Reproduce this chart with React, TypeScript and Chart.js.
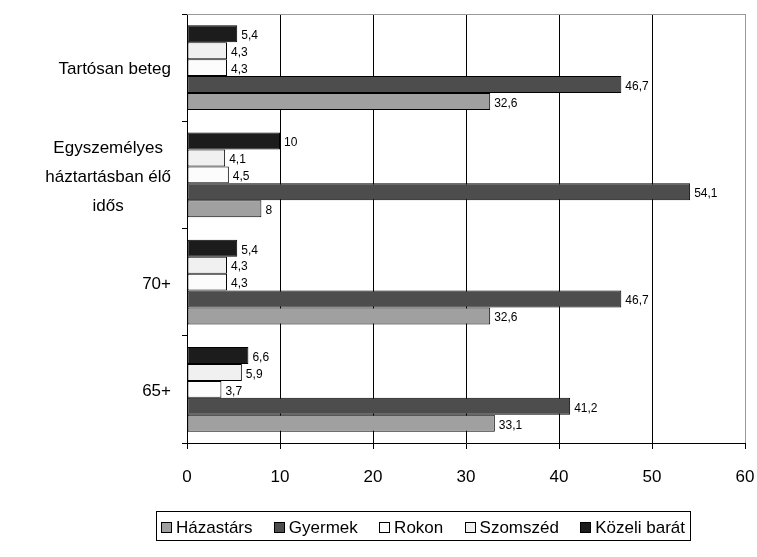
import React, { useEffect, useRef } from 'react';
import { Chart, registerables } from 'chart.js';

Chart.register(...registerables);

const FONT = "'Liberation Sans', Arial, sans-serif";

const categories: string[][] = [
  ['Tartósan beteg'],
  ['Egyszemélyes', 'háztartásban élő', 'idős'],
  ['70+'],
  ['65+'],
];

const hazastars = [32.6, 8, 32.6, 33.1];
const gyermek = [46.7, 54.1, 46.7, 41.2];
const rokon = [4.3, 4.5, 4.3, 3.7];
const szomszed = [4.3, 4.1, 4.3, 5.9];
const kozeliBarat = [5.4, 10, 5.4, 6.6];

const xMin = 0;
const xMax = 60;
const xStep = 10;

const fmt = (v: number) => String(v).replace('.', ',');

const valueLabelPlugin = {
  id: 'valueLabels',
  afterDatasetsDraw(chart: any) {
    const ctx = chart.ctx;
    ctx.save();
    ctx.font = `12px ${FONT}`;
    ctx.fillStyle = '#000';
    ctx.textAlign = 'left';
    ctx.textBaseline = 'middle';
    chart.data.datasets.forEach((ds: any, di: number) => {
      const meta = chart.getDatasetMeta(di);
      meta.data.forEach((bar: any, i: number) => {
        ctx.fillText(fmt(ds.data[i]), bar.x + 4, bar.y + 2);
      });
    });
    ctx.restore();
  },
};

const frameAndLabelsPlugin = {
  id: 'frameAndLabels',
  afterDraw(chart: any) {
    const ctx = chart.ctx;
    const area = chart.chartArea;
    const ys = chart.scales.y;
    ctx.save();
    // top frame line (gray)
    ctx.strokeStyle = '#999';
    ctx.lineWidth = 1;
    ctx.beginPath();
    ctx.moveTo(area.left, Math.round(area.top) + 0.5);
    ctx.lineTo(area.right, Math.round(area.top) + 0.5);
    ctx.stroke();

    // category labels: block right-aligned, lines centered
    ctx.font = `17px ${FONT}`;
    ctx.fillStyle = '#000';
    ctx.textAlign = 'center';
    ctx.textBaseline = 'middle';
    const right = ys.right - 16;
    const lh = 29;
    (chart.data.labels as any[]).forEach((lab: any, i: number) => {
      const lines: string[] = Array.isArray(lab) ? lab : [lab];
      const w = Math.max(...lines.map((l) => ctx.measureText(l).width));
      const cx = right - w / 2;
      const cy = ys.getPixelForValue(i) + 2;
      lines.forEach((l, j) => {
        ctx.fillText(l, cx, cy + (j - (lines.length - 1) / 2) * lh);
      });
    });

    // legend with border
    const items = [...chart.data.datasets].reverse();
    const box = 10;
    const gap = 5;
    const boxLeft = 156;
    const boxRight = 690;
    const pad = 5;
    const widths = items.map((d: any) => box + gap + ctx.measureText(d.label).width);
    const sum = widths.reduce((a: number, b: number) => a + b, 0);
    const spacing = (boxRight - boxLeft - 2 * pad - sum) / (items.length - 1);
    const cy = 527;
    let x = boxLeft + pad;
    ctx.strokeStyle = '#000';
    ctx.lineWidth = 1;
    ctx.strokeRect(boxLeft + 0.5, 511.5, boxRight - boxLeft, 29);
    ctx.textAlign = 'left';
    items.forEach((d: any, k: number) => {
      ctx.fillStyle = d.backgroundColor;
      ctx.fillRect(Math.round(x) + 0.5, cy - 5 + 0.5, box, box);
      ctx.strokeStyle = '#000';
      ctx.strokeRect(Math.round(x) + 0.5, cy - 5 + 0.5, box, box);
      ctx.fillStyle = '#000';
      ctx.fillText(d.label, x + box + gap, cy + 1);
      x += widths[k] + spacing;
    });
    ctx.restore();
  },
};

export default function App() {
  const ref = useRef<HTMLCanvasElement | null>(null);

  useEffect(() => {
    document.body.style.margin = '0';
    const canvas = ref.current;
    if (!canvas) return;
    const mk = (label: string, data: number[], color: string) => ({
      label,
      data,
      backgroundColor: color,
      borderColor: '#000',
      borderWidth: 1,
      borderSkipped: false,
      categoryPercentage: 0.79,
      barPercentage: 1.0,
    });
    const chart = new Chart(canvas, {
      type: 'bar',
      data: {
        labels: categories as any,
        datasets: [
          mk('Közeli barát', kozeliBarat, '#1c1c1c'),
          mk('Szomszéd', szomszed, '#f0f0f0'),
          mk('Rokon', rokon, '#fcfcfc'),
          mk('Gyermek', gyermek, '#4d4d4d'),
          mk('Házastárs', hazastars, '#a0a0a0'),
        ],
      },
      options: {
        indexAxis: 'y',
        responsive: false,
        animation: false,
        devicePixelRatio: 1,
        layout: { padding: { top: 14, right: 12, left: 0, bottom: 0 } },
        plugins: {
          legend: { display: false },
          tooltip: { enabled: false },
        },
        scales: {
          x: {
            min: xMin,
            max: xMax,
            ticks: {
              stepSize: xStep,
              color: '#000',
              font: { family: FONT, size: 17 },
              padding: 18,
            },
            grid: {
              color: (c: any) => (c.tick && c.tick.value === xMax ? '#999' : '#000'),
              tickColor: '#000',
              tickLength: 6,
              lineWidth: 1,
            },
            border: { color: '#000', width: 1 },
            afterFit: (s: any) => {
              s.height = 114;
              s.paddingRight = 0;
              s.paddingLeft = 0;
            },
          },
          y: {
            type: 'category',
            offset: true,
            ticks: { display: false },
            grid: {
              offset: true,
              drawOnChartArea: false,
              drawTicks: true,
              tickLength: 5,
              color: '#000',
            },
            border: { color: '#000', width: 1 },
            afterFit: (s: any) => {
              s.width = 187;
              s.paddingTop = 0;
              s.paddingBottom = 0;
            },
          },
        },
      },
      plugins: [valueLabelPlugin, frameAndLabelsPlugin],
    } as any);
    return () => chart.destroy();
  }, []);

  return (
    <div style={{ width: 757, height: 557, background: '#fff' }}>
      <canvas ref={ref} width={757} height={557} style={{ display: 'block' }} />
    </div>
  );
}
